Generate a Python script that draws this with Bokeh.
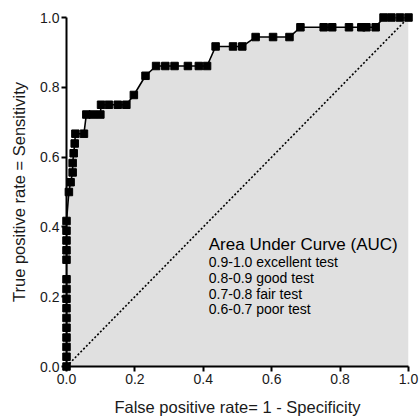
from bokeh.plotting import figure
from bokeh.models import Range1d, Label, NumeralTickFormatter, FixedTicker
from bokeh.embed import file_html
from bokeh.resources import INLINE

# ROC curve points
fpr = [0.0, 0.0, 0.0, 0.0, 0.0, 0.0, 0.0, 0.0, 0.0, 0.0,
       0.0, 0.0, 0.0, 0.0, 0.0,
       0.007, 0.012, 0.018, 0.018, 0.021, 0.024,
       0.026, 0.051,
       0.058, 0.077, 0.099,
       0.101, 0.124, 0.150, 0.175,
       0.197, 0.231,
       0.262, 0.289, 0.316, 0.355, 0.387, 0.411,
       0.436, 0.487, 0.514,
       0.553, 0.604, 0.652,
       0.684, 0.752, 0.777, 0.826, 0.862, 0.877, 0.904,
       0.927, 0.950, 0.975, 1.0]
tpr = [0.0, 0.028, 0.056, 0.083, 0.111, 0.139, 0.167, 0.194, 0.222, 0.250,
       0.306, 0.333, 0.361, 0.389, 0.417,
       0.500, 0.528, 0.556, 0.583, 0.611, 0.639,
       0.667, 0.667,
       0.722, 0.722, 0.722,
       0.750, 0.750, 0.750, 0.750,
       0.778, 0.833,
       0.861, 0.861, 0.861, 0.861, 0.861, 0.861,
       0.917, 0.917, 0.917,
       0.944, 0.944, 0.944,
       0.972, 0.972, 0.972, 0.972, 0.972, 0.972, 0.972,
       1.0, 1.0, 1.0, 1.0]

diag_x = [0.0, 1.0]
diag_y = [0.0, 1.0]
ticks = [0.0, 0.2, 0.4, 0.6, 0.8, 1.0]
x_label = "False positive rate= 1 - Specificity"
y_label = "True positive rate = Sensitivity"
auc_title = "Area Under Curve (AUC)"
auc_lines = ["0.9-1.0 excellent test", "0.8-0.9 good test",
             "0.7-0.8 fair test", "0.6-0.7 poor test"]

FONT = "Liberation Sans"

p = figure(width=419, height=419, x_range=Range1d(0, 1), y_range=Range1d(0, 1),
           output_backend="svg", toolbar_location=None,
           min_border_left=66, min_border_right=11, min_border_top=17,
           min_border_bottom=53)
p.outline_line_color = None
p.grid.visible = False
p.background_fill_color = "white"

patch_x = fpr + [fpr[-1], fpr[0]]
patch_y = tpr + [0.0, 0.0]
p.patch(patch_x, patch_y, fill_color="#e0e0e0", line_color=None)
p.line(diag_x, diag_y, line_dash="2 2", line_color="black", line_width=1.6)
p.line(fpr, tpr, line_color="black", line_width=1.6)
p.scatter(fpr, tpr, marker="square", size=7.5, color="black", level="overlay")

for ax in (p.xaxis[0], p.yaxis[0]):
    ax.ticker = FixedTicker(ticks=ticks)
    ax.formatter = NumeralTickFormatter(format="0.0")
    ax.axis_line_width = 2
    ax.axis_line_color = "black"
    ax.major_tick_line_width = 2
    ax.major_tick_out = 5
    ax.major_tick_in = 0
    ax.minor_tick_line_color = None
    ax.major_label_text_font = FONT
    ax.major_label_text_font_size = "14px"
    ax.major_label_text_color = "#1a1a1a"
    ax.major_label_standoff = 2
    ax.axis_label_text_font = FONT
    ax.axis_label_text_font_size = "16.5px"
    ax.axis_label_text_font_style = "normal"
    ax.axis_label_text_color = "#1a1a1a"

p.xaxis.axis_label_standoff = 11
p.yaxis.axis_label_standoff = 9
p.xaxis.axis_label = x_label
p.yaxis.axis_label = y_label

p.add_layout(Label(x=0.416, y=0.323, text=auc_title, text_font=FONT,
                   text_font_size="17px", text_color="black"))
line_y = [0.277, 0.232, 0.186, 0.141]
for yy, t in zip(line_y, auc_lines):
    p.add_layout(Label(x=0.416, y=yy, text=t, text_font=FONT,
                       text_font_size="14px", text_color="black"))

open("out.html", "w").write(file_html(p, INLINE))
